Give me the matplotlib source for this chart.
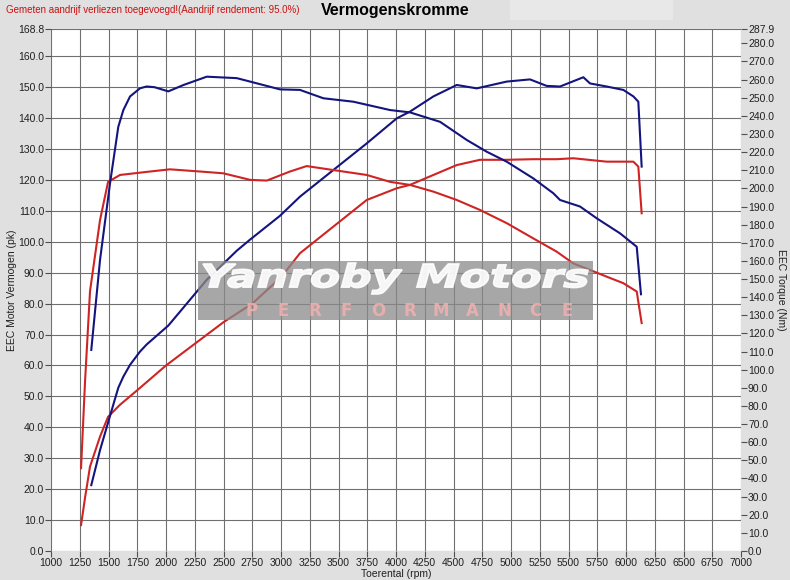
import numpy as np
import matplotlib
matplotlib.use('Agg')
import matplotlib.pyplot as plt
from matplotlib.textpath import TextPath
from matplotlib.patches import PathPatch
from matplotlib.font_manager import FontProperties
from matplotlib.transforms import Affine2D

plt.rcParams['font.family'] = ['Liberation Sans', 'DejaVu Sans']

# stock (rood) en getuned (blauw), vermogen in pk, koppel in Nm
rpm_pk_rood = [1261, 1296, 1339, 1426, 1496, 1600, 1750, 2000, 2250, 2500, 2750, 3000, 3165,
               3455, 3745, 4006, 4122, 4325, 4528, 4730, 4963, 5194, 5397, 5542, 5832,
               6064, 6107, 6136]
pk_rood = [8.4, 17.3, 27.3, 37.0, 43.4, 47.3, 52.0, 60.0, 67.0, 74.0, 80.0, 88.5, 96.3,
           104.9, 113.5, 117.3, 118.4, 121.6, 124.8, 126.5, 126.5, 126.7, 126.7, 127.0, 125.9,
           125.9, 124.3, 109.2]

rpm_nm_rood = [1261, 1296, 1339, 1426, 1496, 1600, 1861, 2035, 2296, 2499, 2731, 2876, 3078,
               3223, 3455, 3745, 3948, 4122, 4325, 4528, 4730, 4963, 5194, 5397, 5542,
               5687, 5832, 5977, 6093, 6136]
nm_rood = [45.7, 93.8, 143.3, 182.5, 203.6, 207.4, 209.3, 210.5, 209.3, 208.3, 204.7, 204.3, 209.3,
           212.3, 210.1, 207.4, 203.6, 201.9, 198.2, 193.6, 188.1, 180.8, 172.4, 165.1, 158.6,
           155.0, 151.3, 147.7, 143.1, 125.7]

rpm_pk_blauw = [1350, 1426, 1513, 1585, 1629, 1687, 1774, 1832, 2020, 2151, 2354, 2615, 2731,
                2991, 3165, 3455, 3745, 4006, 4122, 4325, 4528, 4702, 4963, 5165, 5310,
                5426, 5629, 5687, 5832, 5977, 6064, 6107, 6136]
pk_blauw = [21.3, 32.6, 43.7, 52.8, 56.4, 60.2, 64.5, 66.8, 72.9, 78.7, 87.7, 97.1, 100.7,
            108.4, 114.6, 123.2, 131.8, 139.9, 142.1, 147.0, 150.7, 149.6, 151.8, 152.5, 150.4,
            150.2, 153.2, 151.2, 150.2, 149.1, 147.0, 145.3, 124.3]

rpm_nm_blauw = [1350, 1426, 1513, 1585, 1629, 1687, 1774, 1832, 1900, 2020, 2151, 2354, 2615,
                2731, 2991, 3165, 3368, 3629, 3948, 4122, 4383, 4615, 4789, 4963, 5194,
                5368, 5426, 5600, 5745, 5948, 6093, 6130]
nm_blauw = [110.9, 160.5, 202.8, 234.0, 243.2, 250.7, 255.2, 256.2, 255.8, 253.5, 257.0, 261.6, 260.8,
            258.9, 254.6, 254.3, 249.7, 247.8, 243.2, 241.9, 236.7, 226.7, 220.2, 214.7, 205.5,
            197.3, 193.6, 190.0, 183.5, 175.2, 167.8, 141.6]

x_ticks = list(range(1000, 7001, 250))
pk_ticks = [i * 10.0 for i in range(17)] + [168.8]
nm_ticks = [i * 10.0 for i in range(29)] + [287.9]

blauw = '#14147e'
rood = '#cf2424'
W, H = 790.0, 580.0

fig = plt.figure(figsize=(7.9, 5.8), dpi=100, facecolor='#e0e0e0')
ax = fig.add_axes([0.0646, 0.05, 0.8734, 0.90])
ax.set_facecolor('white')
ax2 = ax.twinx()

ax.plot(rpm_pk_rood, pk_rood, color=rood, lw=1.5)
ax.plot(rpm_pk_blauw, pk_blauw, color=blauw, lw=1.5)
ax2.plot(rpm_nm_rood, nm_rood, color=rood, lw=1.5)
ax2.plot(rpm_nm_blauw, nm_blauw, color=blauw, lw=1.5)

ax.set_xlim(1000, 7000)
ax.set_ylim(0, 168.8)
ax2.set_ylim(0, 287.9)

ax.set_xticks(x_ticks)
ax.set_xticklabels([str(t) for t in x_ticks])
ax.set_yticks(pk_ticks)
ax.set_yticklabels(['%.1f' % t for t in pk_ticks])
ax2.set_yticks(nm_ticks)
ax2.set_yticklabels(['%.1f' % t for t in nm_ticks])

ax.grid(True, color='#707070', lw=0.8)
ax.set_axisbelow(True)
for a in (ax, ax2):
    a.tick_params(labelsize=7.5, colors='#505050', labelcolor='#202020', length=4, width=0.8, pad=1)
    for s in a.spines.values():
        s.set_visible(False)

ax.set_xlabel('Toerental (rpm)', fontsize=7.5, color='#202020')
ax.xaxis.set_label_coords(0.5, -0.035)
ax.set_ylabel('EEC Motor Vermogen (pk)', fontsize=7.5, color='#202020', va='center')
ax.yaxis.set_label_coords(-0.057, 0.5)
ax2.set_ylabel('EEC Torque (Nm)', fontsize=7.5, color='#202020', rotation=-90, va='center')
ax2.yaxis.set_label_coords(1.058, 0.5)

# watermerk
fig.patches.append(plt.Rectangle((198 / W, 1 - 320 / H), 395 / W, 59 / H, transform=fig.transFigure,
                                 facecolor='#8a8a8a', alpha=0.75, zorder=5))
tp = TextPath((0, 0), 'Yanroby Motors', size=1,
              prop=FontProperties(family='DejaVu Sans', weight='bold', style='italic'))
bb = tp.get_extents()
sx = 385 / bb.width
sy = 31 / bb.height
tr = Affine2D().translate(-bb.x0, -bb.y0).scale(sx / W, sy / H).translate(203 / W, 1 - 294 / H)
fig.patches.append(PathPatch(tp, transform=tr + fig.transFigure, facecolor='white',
                             edgecolor='white', lw=1.2, alpha=0.9, zorder=6))
for i, ch in enumerate('PERFORMANCE'):
    fig.text((252 + i * 31.5) / W, 1 - 311 / H, ch, ha='center', va='center', fontsize=12,
             fontweight='bold', family='DejaVu Sans', color='#f4b0b0', alpha=0.85, zorder=6)

fig.patches.append(plt.Rectangle((0.646, 0.965), 0.206, 0.035, transform=fig.transFigure,
                                 facecolor='#e8e8e8', zorder=0))
fig.text(0.007, 0.982, 'Gemeten aandrijf verliezen toegevoegd!(Aandrijf rendement: 95.0%)',
         fontsize=7, color='#cc1010', va='center')
fig.text(0.5, 0.982, 'Vermogenskromme', fontsize=11.5, fontweight='bold', ha='center', va='center')

fig.savefig('out.png', dpi=100, facecolor=fig.get_facecolor())
